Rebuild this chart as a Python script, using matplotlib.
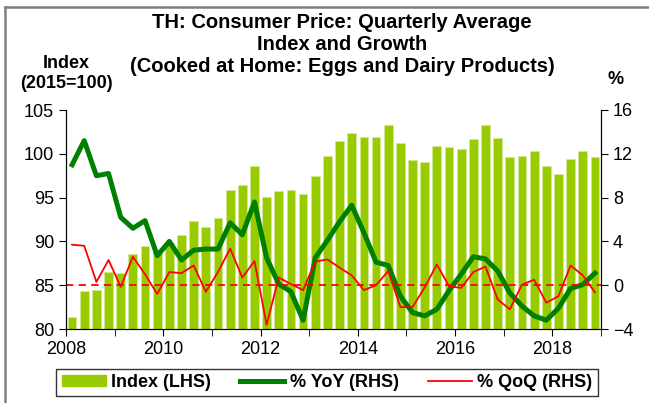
import matplotlib
matplotlib.use('Agg')
import matplotlib.pyplot as plt
import matplotlib.patches as mpatches
from matplotlib.lines import Line2D
import numpy as np

plt.rcParams['font.family'] = ['Liberation Sans', 'DejaVu Sans']

# quarterly data 2008Q1 - 2018Q4
index_lhs = [81.4, 84.3, 84.5, 86.5, 86.4, 88.6, 89.5, 88.9,
             89.8, 90.7, 92.3, 91.7, 92.7, 95.9, 96.4, 98.6,
             95.1, 95.8, 95.9, 95.4, 97.5, 99.8, 101.5, 102.4,
             101.9, 101.9, 103.3, 101.2, 99.3, 99.1, 100.9, 100.8,
             100.5, 101.7, 103.3, 101.8, 99.6, 99.8, 100.3, 98.6,
             97.7, 99.4, 100.3, 99.6]
yoy = [11.0, 13.2, 10.0, 10.2, 6.2, 5.2, 5.9, 2.7,
       4.0, 2.3, 3.2, 3.3, 3.3, 5.7, 4.6, 7.6,
       2.5, 0.1, -0.6, -3.2, 2.5, 4.1, 5.8, 7.3,
       4.8, 2.1, 1.8, -1.0, -2.5, -2.8, -2.2, -0.5,
       1.0, 2.6, 2.4, 1.3, -0.7, -1.9, -2.8, -3.2,
       -2.1, -0.3, 0.05, 1.1]
qoq = [3.7, 3.6, 0.3, 2.3, -0.15, 2.6, 1.0, -0.8,
       1.2, 1.1, 1.8, -0.6, 1.2, 3.35, 0.7, 2.2,
       -3.6, 0.7, 0.1, -0.45, 2.15, 2.35, 1.6, 0.9,
       -0.45, 0.0, 1.3, -2.0, -2.0, -0.2, 1.9, -0.1,
       -0.25, 1.2, 1.7, -1.3, -2.2, 0.05, 0.5, -1.6,
       -1.0, 1.8, 0.9, -0.65]
start_year = 2008
year_labels = ['2008', '2010', '2012', '2014', '2016', '2018']

x = start_year + 0.125 + 0.25 * np.arange(len(index_lhs))

bar_color = '#99CC00'
yoy_color = '#008000'
qoq_color = '#FF0000'

fig = plt.figure(figsize=(6.49, 4.03), dpi=100)
ax = fig.add_axes([66/649, 1-329/403, (601-66)/649, (329-110)/403])
ax.bar(x, index_lhs, width=0.18, color=bar_color, edgecolor='#d4ea9a', linewidth=0.5)
ax.set_ylim(80, 105)
ax.set_xlim(2008, 2019)
ax.set_yticks(np.arange(80, 106, 5))
ax.set_xticks([int(y) for y in year_labels])
ax.set_xticklabels(year_labels)
ax.set_xticks(np.arange(2009, 2020, 2), minor=True)
ax.tick_params(axis='both', which='both', direction='out', length=5, labelsize=13)
ax.spines['top'].set_visible(False)

ax2 = ax.twinx()
ax2.plot(x, yoy, color=yoy_color, lw=3.6)
ax2.plot(x, qoq, color=qoq_color, lw=1.3)
ax2.axhline(0, color=qoq_color, lw=1.3, ls=(0, (4, 3)))
ax2.set_ylim(-4, 16)
ax2.set_yticks(np.arange(-4, 17, 4))
ax2.tick_params(axis='y', direction='out', length=5, labelsize=13)
ax2.spines['top'].set_visible(False)

title_fs = 14.5
fig.text(0.527, 1-22/403, 'TH: Consumer Price: Quarterly Average', ha='center', va='center',
         fontsize=title_fs, fontweight='bold')
fig.text(0.527, 1-44/403, 'Index and Growth', ha='center', va='center',
         fontsize=title_fs, fontweight='bold')
fig.text(0.527, 1-66/403, '(Cooked at Home: Eggs and Dairy Products)', ha='center', va='center',
         fontsize=title_fs, fontweight='bold')
fig.text(66/649, 1-63/403, 'Index', ha='center', va='center', fontsize=13, fontweight='bold')
fig.text(66/649, 1-84/403, '(2015=100)', ha='center', va='center', fontsize=13, fontweight='bold')
fig.text(616/649, 1-79/403, '%', ha='center', va='center', fontsize=13, fontweight='bold')

handles = [mpatches.Patch(color=bar_color),
           Line2D([0], [0], color=yoy_color, lw=3.6),
           Line2D([0], [0], color=qoq_color, lw=1.3)]
labels = ['Index (LHS)', '% YoY (RHS)', '% QoQ (RHS)']
leg = fig.legend(handles, labels, loc='center', bbox_to_anchor=(327/649, 1-382.5/403), ncol=3,
                 frameon=True, fancybox=False, edgecolor='black', handlelength=2.45,
                 handleheight=0.5, columnspacing=1.6, handletextpad=0.3,
                 prop={'weight': 'bold', 'size': 13}, borderpad=0.3)
leg.get_frame().set_linewidth(1.0)

# outer frame (top and left edges visible)
fig.add_artist(Line2D([5/649, 1], [1-7/403, 1-7/403], color='#808080', lw=1.8))
fig.add_artist(Line2D([5/649, 5/649], [0, 1-7/403], color='#808080', lw=1.8))

fig.savefig('out.png', dpi=100)
